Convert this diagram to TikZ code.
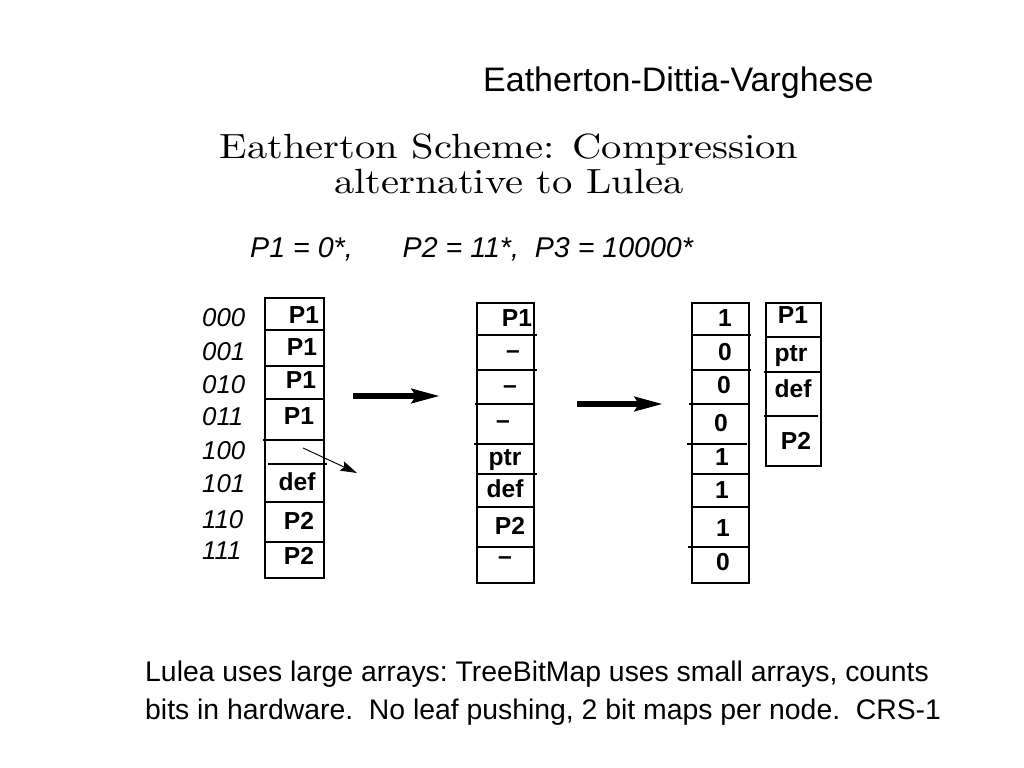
\documentclass[tikz,border=0pt]{standalone}
\usepackage{fontspec}
\usepackage{graphicx}
\newfontfamily\arial{Liberation Sans}
\usetikzlibrary{arrows.meta,positioning}
\tikzset{
  titletxt/.style={font=\arial\fontsize{29}{31}\selectfont, inner sep=0pt},
  prefixtxt/.style={font=\arial\itshape\fontsize{24.4}{26}\selectfont, inner sep=0pt},
  idx/.style={font=\arial\itshape\fontsize{22}{23}\selectfont, inner sep=0pt, anchor=west},
  cell/.style={font=\arial\bfseries\fontsize{21}{22}\selectfont, inner sep=0pt, anchor=base},
  cellbox/.style 2 args={draw, line width=1pt, inner sep=0pt,
                         minimum width=#1, minimum height=#2},
  divline/.style={line width=1pt},
  bigarrow/.style={line width=5pt,
                   -{Stealth[length=0.84cm, width=0.42cm, inset=0.12cm]}},
  smallarrow/.style={line width=0.8pt,
                     -{Stealth[length=0.5cm, width=0.3cm, inset=0.08cm]}},
  notetxt/.style={font=\arial\fontsize{24.2}{32}\selectfont, inner sep=0pt,
                  align=left},
}

\begin{document}
\begin{tikzpicture}[x=0.03cm, y=-0.03cm]
\useasboundingbox (0,0) rectangle (1024,768);

% Titles
\node[titletxt, anchor=base west] (ttl) at (483,91.5) {Eatherton-Dittia-Varghese};
\node[anchor=north, inner sep=0pt] (head) at (509,134)
  {\scalebox{3.46}[2.99]{\fontsize{10}{9.7}\selectfont
   \begin{tabular}{@{}c@{}}Eatherton Scheme: Compression\\alternative to Lulea\end{tabular}}};
\node[prefixtxt, anchor=base west] (pfx) at (250,258)
  {P1 = 0*,\hspace{1.5cm}P2 = 11*,\ \ P3 = 10000*};

% Index bits
\foreach \b/\y in {000/318,001/352,010/385,011/417,100/451,101/484,110/520,111/551}
  \node[idx] (i\b) at (202,\y) {\b};

% Array 1: full table
\node[cellbox={1.77cm}{8.4cm}] (arr1) at (294.5,438) {};
\foreach \y/\xa/\xb in {330/266/325,366/266/325,399/266/325,440/263/323,
                        464/268/327,502/266/324,542/266/324}
  \draw[divline] (\xa,\y) -- (\xb,\y);
\foreach \t/\x/\y [count=\i] in {P1/304/324,P1/302/356,P1/301/389,P1/299/425,
                                 def/297/491,P2/299/530,P2/299/565}
  \node[cell] (a1c\i) at (\x,\y) {\t};

% Array 2: leaf pushed
\node[cellbox={1.71cm}{8.4cm}] (arr2) at (505.5,443) {};
\foreach \y/\xa/\xb in {335/477/537,370/477/537,404/475/534,444/474/534,
                        474/477/537,507/477/535,547/477/534}
  \draw[divline] (\xa,\y) -- (\xb,\y);
\foreach \t/\x/\y [count=\i] in {P1/517/327,–/513/359,–/510/394,–/503/429,
                                 ptr/505/466,def/505/498,P2/510/535,–/505/564}
  \node[cell] (a2c\i) at (\x,\y) {\t};

% Array 3: bitmap
\node[cellbox={1.71cm}{8.4cm}] (arr3) at (720.5,443) {};
\foreach \y/\xa/\xb in {335/692/751,370/692/751,404/689/749,444/687/747,
                        474/692/750,507/692/750,547/688/749}
  \draw[divline] (\xa,\y) -- (\xb,\y);
\foreach \t/\x/\y [count=\i] in {1/725/327,0/725/361,0/724/394,0/721/432,
                                 1/722/466,1/722/499,1/723/537,0/723/571}
  \node[cell] (a3c\i) at (\x,\y) {\t};

% Array 4: compressed
\node[cellbox={1.65cm}{4.89cm}] (arr4) at (793.5,384.5) {};
\foreach \y/\xa/\xb in {337/766/822,372/764/821,416/764/818}
  \draw[divline] (\xa,\y) -- (\xb,\y);
\foreach \t/\x/\y [count=\i] in {P1/793/324,ptr/791/362,def/793/398,P2/796/450}
  \node[cell] (a4c\i) at (\x,\y) {\t};

% Arrows
\coordinate (s1) at (353,396);
\coordinate (e1) at (440,396);
\coordinate (s2) at (577,404);
\coordinate (e2) at (663,404);
\coordinate (ps) at (303,448);
\coordinate (pe) at (357,473);
\draw[bigarrow] (s1) -- (e1);
\draw[bigarrow] (s2) -- (e2);
\draw[smallarrow] (ps) -- (pe);

% Note
\node[notetxt, anchor=north west] (note) at (145,661)
  {Lulea uses large arrays:\ TreeBitMap uses small arrays, counts\\
   bits in hardware.\ \ No leaf pushing, 2 bit maps per node.\ \ CRS-1};

\end{tikzpicture}
\end{document}
